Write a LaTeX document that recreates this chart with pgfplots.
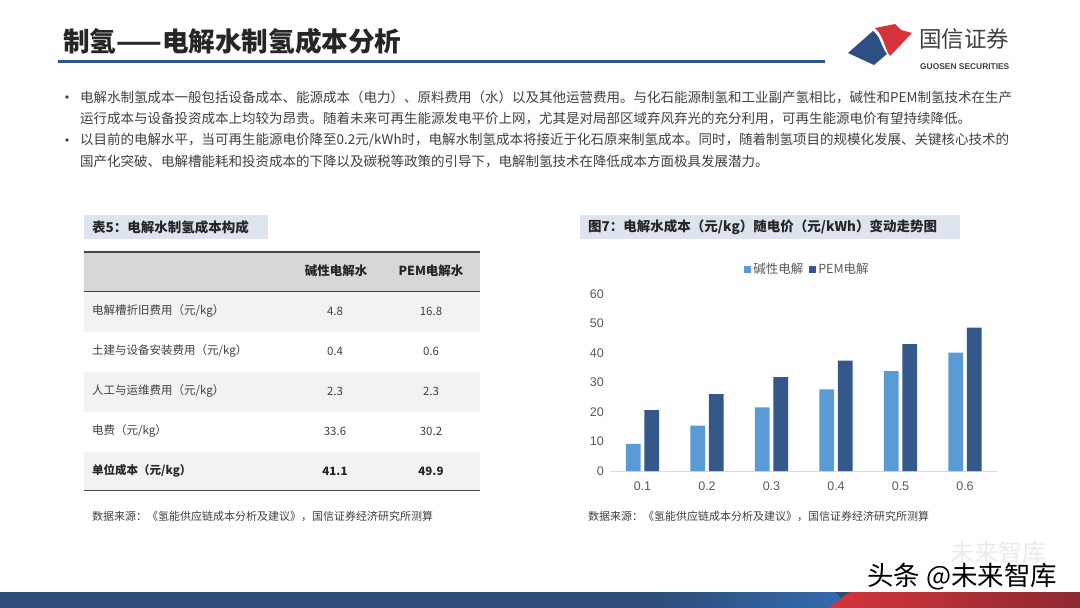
\documentclass[border=0pt]{standalone}
\usepackage{pgfplots}
\pgfplotsset{compat=1.18}
\usepackage{fontspec}
\setmainfont{Noto Sans CJK SC}
\newfontfamily\arial{Liberation Sans}
\newcommand\fs[1]{\fontsize{#1}{#1}\selectfont}

\definecolor{lightbar}{RGB}{91,155,213}
\definecolor{darkbar}{RGB}{51,88,137}
\definecolor{ticktext}{RGB}{89,89,89}
\definecolor{axisgray}{RGB}{217,217,217}
\definecolor{bodytext}{RGB}{64,64,64}
\definecolor{titletext}{RGB}{38,38,38}
\definecolor{navy}{RGB}{47,84,135}
\definecolor{titlebox}{RGB}{221,228,238}
\definecolor{hdrfill}{RGB}{217,214,215}
\definecolor{rowfill}{RGB}{242,242,242}
\definecolor{tline}{RGB}{70,70,70}
\definecolor{logoblue}{RGB}{44,79,132}
\definecolor{logored}{RGB}{216,51,60}
\definecolor{stripblue}{RGB}{46,76,120}
\definecolor{midblue}{RGB}{52,108,176}
\definecolor{stripred}{RGB}{214,52,60}
\definecolor{darkred}{RGB}{140,42,48}

\begin{document}
\begin{tikzpicture}
\path[use as bounding box] (0pt,0pt) rectangle (1080pt,-608pt);
\begin{scope}[x=1pt,y=-1pt]
\fill[white] (0,0) rectangle (1080,608);

% header
\node[anchor=west, inner sep=0, text=titletext, font=\fs{26.6}\bfseries] at (63,41) {制氢——电解水制氢成本分析};
\fill[navy] (58,59.5) rectangle (825,62.5);

% logo
\fill[logoblue] (848,53) -- (873,31) .. controls (881,37) and (881,47) .. (887,54) -- (874,65) -- cycle;
\fill[logored] (875,28) -- (895,24) -- (901,30) -- (912,33) -- (890,56) .. controls (884,48) and (884,36) .. (875,28) -- cycle;
\node[anchor=west, inner sep=0, text=bodytext, font=\fs{22.5}] at (919,39) {国信证券};
\node[anchor=west, inner sep=0, text=bodytext, font=\arial\fs{8.4}\bfseries] at (920,67) {GUOSEN SECURITIES};

% bullets
\fill[bodytext] (67,97) circle (1.9);
\fill[bodytext] (67,140) circle (1.9);
\node[anchor=west, inner sep=0, text=bodytext, font=\fs{13.5}] at (80,97) {电解水制氢成本一般包括设备成本、能源成本（电力）、原料费用（水）以及其他运营费用。与化石能源制氢和工业副产氢相比，碱性和PEM制氢技术在生产};
\node[anchor=west, inner sep=0, text=bodytext, font=\fs{13.5}] at (80,118.5) {运行成本与设备投资成本上均较为昂贵。随着未来可再生能源发电平价上网，尤其是对局部区域弃风弃光的充分利用，可再生能源电价有望持续降低。};
\node[anchor=west, inner sep=0, text=bodytext, font=\fs{13.5}] at (80,140) {以目前的电解水平，当可再生能源电价降至0.2元/kWh时，电解水制氢成本将接近于化石原来制氢成本。同时，随着制氢项目的规模化发展、关键核心技术的};
\node[anchor=west, inner sep=0, text=bodytext, font=\fs{13.5}] at (80,161.5) {国产化突破、电解槽能耗和投资成本的下降以及碳税等政策的引导下，电解制氢技术在降低成本方面极具发展潜力。};

% table
\fill[titlebox] (84,215) rectangle (268,239);
\node[anchor=west, inner sep=0, text=titletext, font=\fs{13.5}\bfseries] at (92,227) {表5：电解水制氢成本构成};
\fill[hdrfill] (84,252) rectangle (480,291.5);
\fill[rowfill] (84,291.5) rectangle (480,331.5);
\fill[rowfill] (84,371.5) rectangle (480,411.5);
\fill[rowfill] (84,451.5) rectangle (480,490.5);
\draw[line width=1.6pt, tline] (84,252) -- (480,252);
\draw[line width=1.3pt, tline] (84,291.5) -- (480,291.5);
\draw[line width=1.6pt, tline] (84,490.5) -- (480,490.5);
\node[inner sep=0, text=titletext, font=\fs{12.5}\bfseries] at (336,271) {碱性电解水};
\node[inner sep=0, text=titletext, font=\fs{12.5}\bfseries] at (431,271) {PEM电解水};

\node[anchor=west, inner sep=0, text=bodytext, font=\fs{11.5}] at (92,311.5) {电解槽折旧费用（元/kg）};
\node[inner sep=0, text=bodytext, font=\fs{11.5}] at (335,311.5) {4.8};
\node[inner sep=0, text=bodytext, font=\fs{11.5}] at (431,311.5) {16.8};
\node[anchor=west, inner sep=0, text=bodytext, font=\fs{11.5}] at (92,351.5) {土建与设备安装费用（元/kg）};
\node[inner sep=0, text=bodytext, font=\fs{11.5}] at (335,351.5) {0.4};
\node[inner sep=0, text=bodytext, font=\fs{11.5}] at (431,351.5) {0.6};
\node[anchor=west, inner sep=0, text=bodytext, font=\fs{11.5}] at (92,391.5) {人工与运维费用（元/kg）};
\node[inner sep=0, text=bodytext, font=\fs{11.5}] at (335,391.5) {2.3};
\node[inner sep=0, text=bodytext, font=\fs{11.5}] at (431,391.5) {2.3};
\node[anchor=west, inner sep=0, text=bodytext, font=\fs{11.5}] at (92,431.5) {电费（元/kg）};
\node[inner sep=0, text=bodytext, font=\fs{11.5}] at (335,431.5) {33.6};
\node[inner sep=0, text=bodytext, font=\fs{11.5}] at (431,431.5) {30.2};
\node[anchor=west, inner sep=0, text=titletext, font=\fs{11.5}\bfseries] at (92,471) {单位成本（元/kg）};
\node[inner sep=0, text=titletext, font=\fs{11.5}\bfseries] at (335,471) {41.1};
\node[inner sep=0, text=titletext, font=\fs{11.5}\bfseries] at (431,471) {49.9};
\node[anchor=west, inner sep=0, text=bodytext, font=\fs{11}] at (92,516) {数据来源：《氢能供应链成本分析及建议》，国信证券经济研究所测算};

% chart title and source
\fill[titlebox] (580,215) rectangle (960,239);
\node[anchor=west, inner sep=0, text=titletext, font=\fs{13.5}\bfseries] at (588,227) {图7：电解水成本（元/kg）随电价（元/kWh）变动走势图};
\node[anchor=west, inner sep=0, text=bodytext, font=\fs{11}] at (588,516) {数据来源：《氢能供应链成本分析及建议》，国信证券经济研究所测算};

% watermark and bottom strip
\node[anchor=west, inner sep=0, text=black!8, font=\fs{24}] at (950,552) {未来智库};
\fill[stripblue] (0,592) rectangle (1080,608);
\shade[left color=stripblue, right color=midblue] (650,592) -- (835,592) -- (850,608) -- (665,608) -- cycle;
\shade[left color=stripred, right color=darkred] (828,608) -- (850,592) -- (1080,592) -- (1080,608) -- cycle;
\node[anchor=west, inner sep=0, text=black, font=\fs{26.5}] at (867,577) {头条 @未来智库};
\end{scope}

\begin{axis}[
    at={(610.25pt,-471pt)}, anchor=south west,
    scale only axis, width=387pt, height=177pt,
    xmin=-0.5, xmax=5.5, ymin=0, ymax=60,
    ybar=3.7pt, bar width=14.7pt,
    xtick={0,1,2,3,4,5},
    xticklabels={0.1,0.2,0.3,0.4,0.5,0.6},
    ytick={0,10,20,30,40,50,60},
    axis x line*=bottom, axis y line*=left,
    x axis line style={-, draw=axisgray, line width=1pt},
    y axis line style={draw=none},
    major tick length=0pt, tick style={draw=none},
    /pgf/number format/assume math mode=true,
    tick label style={font=\arial\fs{12.5}, text=ticktext},
    xticklabel style={yshift=-7pt},
    yticklabel style={xshift=-3pt},
    legend image code/.code={\fill[#1] (0pt,-3.5pt) rectangle (7pt,3.5pt);},
    legend style={at={(0.5097,1.141)}, anchor=center, draw=none, fill=none,
        legend columns=2, font=\fs{12.5}, text=ticktext, inner sep=0pt,
        /tikz/every even column/.append style={column sep=4pt}},
]
\addplot[fill=lightbar, draw=none] coordinates {
    (0, 9.2) (1, 15.4) (2, 21.6) (3, 27.7) (4, 33.9) (5, 40.1)
};
\addplot[fill=darkbar, draw=none] coordinates {
    (0, 20.6) (1, 26.1) (2, 31.8) (3, 37.4) (4, 43.0) (5, 48.6)
};
\legend{碱性电解, PEM电解}
\end{axis}
\end{tikzpicture}
\end{document}
